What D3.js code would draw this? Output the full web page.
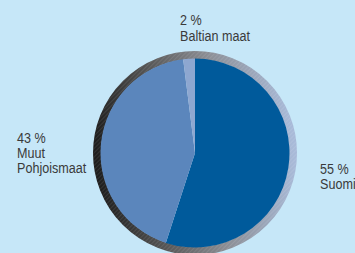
<!DOCTYPE html>
<html>
<head>
<meta charset="utf-8">
<script src="https://cdn.jsdelivr.net/npm/d3@7"></script>
<style>
  html, body { margin: 0; padding: 0; background: #c6e7f8; }
  svg { display: block; }
  text { font-family: "Liberation Sans", Arial, sans-serif; font-size: 15px; fill: #3a3a3a; }
</style>
</head>
<body>
<svg id="chart"></svg>
<script>
// данные диаграммы
const names = ["Suomi", "Muut Pohjoismaat", "Baltian maat"];
const nameLines = [["Suomi"], ["Muut", "Pohjoismaat"], ["Baltian maat"]];
const values = [55, 43, 2];
const colors = ["#005a9b", "#5b86bc", "#8ea7d0"];

// размещение подписей
const labelPos = [
  { x: 320, y: 174 },
  { x: 17, y: 143 },
  { x: 180, y: 25 }
];

const width = 355;
const height = 253;
const cx = 195;
const cy = 153;
const radius = 94;
const rim = 8;

const svg = d3.select("#chart")
  .attr("width", width)
  .attr("height", height);

svg.append("rect")
  .attr("width", width)
  .attr("height", height)
  .attr("fill", "#c6e7f8");

const defs = svg.append("defs");

// градиент для ободка
const grad = defs.append("linearGradient")
  .attr("id", "rimGrad")
  .attr("x1", 0).attr("y1", 0.55)
  .attr("x2", 1).attr("y2", 0.45);
grad.append("stop").attr("offset", "0%").attr("stop-color", "#1e1e1e");
grad.append("stop").attr("offset", "30%").attr("stop-color", "#555555");
grad.append("stop").attr("offset", "60%").attr("stop-color", "#8a8c92");
grad.append("stop").attr("offset", "100%").attr("stop-color", "#a8bad8");

// штриховка ободка
const pat = defs.append("pattern")
  .attr("id", "hatch")
  .attr("width", 3).attr("height", 3)
  .attr("patternUnits", "userSpaceOnUse")
  .attr("patternTransform", "rotate(45)");
pat.append("line")
  .attr("x1", 0).attr("y1", 0).attr("x2", 0).attr("y2", 3)
  .attr("stroke", "#ffffff").attr("stroke-opacity", 0.18).attr("stroke-width", 1);

const g = svg.append("g")
  .attr("transform", `translate(${cx}, ${cy})`);

g.append("circle")
  .attr("r", radius + rim / 2)
  .attr("fill", "none")
  .attr("stroke", "url(#rimGrad)")
  .attr("stroke-width", rim);

g.append("circle")
  .attr("r", radius + rim / 2)
  .attr("fill", "none")
  .attr("stroke", "url(#hatch)")
  .attr("stroke-width", rim);

const pie = d3.pie()
  .value(d => d)
  .sort(null);

const arc = d3.arc()
  .innerRadius(0)
  .outerRadius(radius + 0.5);

g.selectAll("path")
  .data(pie(values))
  .enter()
  .append("path")
  .attr("d", arc)
  .attr("fill", (d, i) => colors[i]);

// подписи (узкий шрифт получаем сжатием по горизонтали)
const labels = svg.selectAll("text.lbl")
  .data(values)
  .enter()
  .append("text")
  .attr("class", "lbl")
  .attr("transform", (d, i) => `translate(${labelPos[i].x}, ${labelPos[i].y}) scale(0.84, 1)`);

labels.each(function (d, i) {
  const t = d3.select(this);
  const lines = [d + " %"].concat(nameLines[i]);
  lines.forEach((s, k) => {
    t.append("tspan")
      .attr("x", 0)
      .attr("dy", k === 0 ? 0 : (i === 2 ? 16 : 14.8))
      .text(s);
  });
});
</script>
</body>
</html>
